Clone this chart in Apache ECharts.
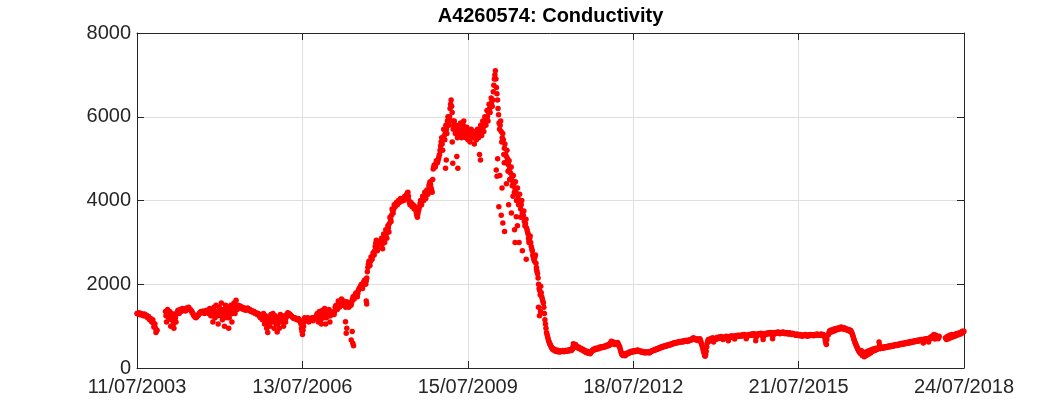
<!DOCTYPE html>
<html>
<head>
<meta charset="utf-8">
<script src="https://cdn.jsdelivr.net/npm/echarts@6/dist/echarts.min.js"></script>
<style>
html,body{margin:0;padding:0;background:#fff;}
#chart{width:1063px;height:413px;}
</style>
</head>
<body>
<div id="chart"></div>
<script>
// Weekly readings (every 7 days) starting 11/07/2003, one array per July-to-July year
const startDate = '2003-07-11';
const stepDays = 7;
const y2003 = [1300,1290,1320,1270,1300,1280,1250,1290,1240,1260, 1200,1230,1150,1180,1100,1150,980,1050,850,900, null,null,null,null,null,null,null,1350,1100,1400, 1200,1350,1000,1300,1150,950,1250,1100,1320,1380, 1300,1400,1350,1420,1380,1400,1360,1430,1400,1450, 1410,1380];
const y2004 = [1350,1300,1250,1220,1200,1240,1260,1300,1330,1350, 1320,1360,1300,1340,1380,1330,1300,1420,1250,1380, 1100,1450,1200,1500,1300,1050,1450,1350,1550,1150, 1400,1000,1500,1250,1450,950,1350,1500,1100,1400, 1550,1300,1620,1400,1500,1450,1480,1420,1450,1400, 1430,1380];
const y2005 = [1400,1430,1380,1400,1350,1370,1330,1350,1300,1320, 1280,1300,1250,1200,1280,1150,1300,1050,1250,950, 850,1200,1000,1280,1100,1300,950,1250,1050,860, 1200,950,1280,1100,1250,1000,1200,1100,1280,1320, 1300,1280,1250,1230,1200,1180,1200,1170,1150,1180, 1150,1100];
const y2006 = [950,800,1000,1200,1180,1150,1200,1100,1180,1150, 1200,1130,1200,1180,1230,1300,1100,1350,1250,1050, 1380,1200,1420,1050,1350,1250,1400,1100,1350,1300, 1320,1280,1450,1500,1400,1600,1450,1550,1650,1500, 1600,1550,1450,1580,1500,1450,1550,1500,1600,1700, 1650,1750];
const y2007 = [1800,1700,1850,1900,1950,2000,1900,2050,2100,2000, 2150,2400,2550,2450,2650,2600,2750,2700,2900,3050, 2800,2950,null,3000,3100,2850,3200,3000,3300,3100, 3400,3250,3600,3500,3800,3700,3900,3850,3950,3900, 4000,3950,4050,3980,4050,4000,4100,4050,4150,4200, 4000,3900];
const y2008 = [3950,3850,3900,3800,3850,3700,3600,3750,3850,4000, 3900,4100,4000,4200,4050,4250,4150,4350,4450,4300, 4200,4750,4850,4800,4950,4900,5000,5100,5300,5500, 5200,5700,5450,5800,5600,6000,5800,6200,6400,6100, 5700,5900,5600,5800,5500,5750,5600,5850,5500,5700, 5900,5650];
const y2009 = [5500,5750,5450,5650,5400,5700,5500,5600,5350,5650, 5450,5700,5500,5600,5800,5550,5900,5650,6000,5800, 6150,5900,6300,6100,6450,6250,6600,6900,7100,6700, 6400,6050,5700,5900,5400,5600,5100,5350,4900,5200, 4700,4950,4500,4800,4350,4600,4200,4450,4000,4300, 3900,4150];
const y2010 = [3800,4000,3600,3750,3400,3550,3300,3200,3050,3150, 2900,2800,2650,2550,2700,2400,2250,2000,1850,1950, 1700,1600,1450,1150,950,800,700,620,560,500, 480,430,450,400,430,390,420,380,410,400, 420,390,410,420,400,430,410,440,420,450, 580,500];
const y2011 = [560,520,480,500,460,470,430,450,400,420, 370,400,350,380,340,390,420,450,430,470, 450,480,460,500,480,510,490,520,500,540, 520,560,540,600,640,580,620,560,600,570, 610,550,500,400,330,300,340,290,330,360, 340,380];
const y2012 = [370,400,380,410,390,420,400,430,410,400, 380,400,370,390,360,380,370,390,360,380, 400,420,410,440,430,460,450,480,470,500, 490,520,510,530,520,550,540,560,550,580, 570,600,590,610,600,620,610,630,620,640, 620,650];
const y2013 = [640,660,630,660,650,680,670,700,720,680, 700,660,690,650,700,620,550,450,350,280, 400,600,680,640,700,660,720,620,700,680, 730,700,740,710,750,720,680,740,720,760, 730,650,750,730,770,740,760,690,770,750, 780,760];
const y2014 = [780,760,790,770,800,780,700,790,770,800, 780,810,790,820,800,650,810,790,820,800, 830,810,680,820,800,830,810,840,820,850, 830,700,840,820,850,830,860,840,820,850, 830,860,840,820,850,830,810,840,820,800, 830,810];
const y2015 = [800,780,810,790,770,800,780,760,790,770, 800,780,760,790,770,800,780,790,770,800, 780,810,790,800,780,810,790,800,770,650, 560,780,800,880,900,860,920,880,940,900, 950,920,960,930,980,950,930,960,920,940, 900,920];
const y2016 = [880,900,850,780,700,620,560,500,450,400, 350,420,300,380,270,350,300,400,330,420, 360,440,400,460,420,470,440,480,620,460, 490,470,500,480,510,490,520,500,530,510, 540,520,550,530,560,540,570,550,580,560, 590,570];
const y2017 = [600,580,610,590,620,600,630,610,640,620, 650,630,660,640,670,650,680,660,600,690, 670,700,680,620,720,700,760,730,800,690, 780,720,700,760,null,null,null,null,null,720, 680,760,700,780,720,800,740,790,760,820, 780,830];
const y2018 = [800,850,820,880,860];

// Mid-week readings (3.5 days after each weekly reading)
const m2003 = [1300,1300,1290,1290,1280,1280,1270,1270,1250,1230, 1210,1190,1170,1130,1120,1080,1000,950,900,null, null,null,null,null,null,null,null,1250,1250,1300, 1250,1200,1150,1200,1050,1100,1200,1300,1350,1350, 1360,1370,1390,1380,1400,1390,1400,1410,1420,1410, 1400,1360];
const m2004 = [1320,1280,1240,1210,1220,1250,1280,1310,1340,1340, 1340,1330,1320,1350,1350,1320,1330,1350,1300,1250, 1300,1350,1300,1350,1250,1300,1350,1250,1300,1350, 1200,1300,1350,1200,1300,1200,1400,1300,1300,1450, 1400,1450,1500,1450,1470,1460,1450,1440,1430,1420, 1410,1400];
const m2005 = [1410,1400,1390,1380,1370,1350,1340,1330,1310,1300, 1290,1270,1230,1240,1200,1230,1150,1180,1100,1100, 1050,1100,1150,1200,1200,1150,1100,1150,1150,1050, 1100,1150,1200,1150,1150,1100,1150,1200,1250,1300, 1290,1270,1240,1220,1190,1190,1180,1160,1160,1160, 1120,1050];
const m2006 = [880,900,1100,1150,1170,1170,1150,1150,1160,1170, 1160,1170,1190,1200,1260,1200,1250,1300,1150,1250, 1300,1300,1250,1200,1300,1320,1250,1250,1300,1310, 1300,1350,1480,1450,1500,1520,1500,1600,1580,1550, 1570,1500,1520,1540,1480,1500,1520,1550,1650,1680, 1700,1780];
const m2007 = [1750,1780,1880,1920,1970,1950,1980,2080,2050,2080, 2300,2480,2500,2550,2620,2680,2720,2800,2980,2900, 2850,null,null,3050,2950,3050,3100,3150,3200,3300, 3350,3450,3550,3650,3750,3800,3880,3900,3920,3950, 3970,4000,4020,4010,4030,4050,4070,4100,4180,4100, 3950,3920];
const m2008 = [3900,3870,3850,3830,3780,3650,3680,3800,3920,3950, 4000,4050,4100,4120,4150,4200,4250,4400,4380,4250, 4500,4800,4820,4880,4920,4950,5050,5200,5400,5350, 5450,5550,5650,5700,5900,5900,6000,6300,6250,5900, 5800,5750,5700,5650,5650,5700,5700,5650,5600,5800, 5750,5600];
const m2009 = [5600,5600,5550,5550,5550,5600,5550,5500,5500,5550, 5600,5600,5550,5700,5650,5750,5750,5850,5900,5950, 6000,6100,6200,6300,6350,6400,6750,7000,6900,6550, 6200,5850,5800,5650,5500,5450,5250,5100,5050,5000, 4850,4750,4650,4550,4450,4400,4300,4200,4150,4050, 4000,3950];
const m2010 = [3900,3700,3650,3500,3450,3350,3250,3100,3100,3000, 2850,2700,2600,2650,2500,2300,2150,1900,1750,1800, 1650,1550,1300,1050,850,750,650,580,530,480, 450,440,420,410,410,400,400,390,400,410, 400,400,420,410,410,420,420,430,430,500, 520,520];
const m2011 = [540,500,490,480,460,450,440,420,410,400, 380,370,360,360,370,400,430,440,450,460, 460,470,480,490,495,500,505,510,520,530, 540,550,570,600,610,600,590,590,580,580, 570,520,450,360,310,320,310,310,340,350, 360,370];
const m2012 = [380,390,395,400,400,410,415,420,410,400, 390,385,380,375,370,370,375,375,375,390, 410,415,425,435,445,455,465,475,485,495, 505,515,520,525,535,545,550,555,565,575, 585,595,600,605,610,615,620,625,630,630, 635,645];
const m2013 = [650,645,645,655,665,675,685,710,700,690, 680,675,670,670,660,580,500,400,300,320, 500,640,660,670,680,690,670,690,690,700, 715,720,725,730,735,700,710,730,740,745, 700,720,740,750,755,750,740,760,760,765, 770,770];
const m2014 = [770,775,780,785,790,750,760,780,785,790, 795,800,805,810,760,740,800,805,810,815, 820,760,760,810,815,820,825,830,835,840, 780,780,830,835,840,845,850,845,835,840, 845,850,830,835,840,820,825,830,810,815, 820,805];
const m2015 = [790,795,800,780,785,790,770,775,780,785, 790,770,775,780,785,790,785,780,785,790, 795,800,795,790,795,800,795,785,720,600, 680,790,840,890,880,890,900,910,920,930, 935,940,945,955,965,940,945,940,930,920, 910,900];
const m2016 = [890,870,820,740,660,590,530,470,420,380, 380,360,340,320,320,320,350,360,370,380, 400,410,430,440,440,450,460,470,550,470, 480,485,490,495,500,505,510,515,520,525, 530,535,540,545,550,555,560,565,570,575, 580,585];
const m2017 = [590,595,600,605,610,615,620,625,630,635, 640,645,650,655,660,665,670,640,650,680, 685,690,650,700,710,720,740,760,740,730, 750,710,730,null,null,null,null,null,null,700, 720,730,740,750,760,770,770,780,790,800, 810,820];
const m2018 = [830,840,850,870,880];

// Isolated readings away from the main trace: [decimal year, value]
const outliers2007 = [[2007.314,1105],[2007.338,950],[2007.327,830],[2007.436,870],[2007.418,670],[2007.447,590],[2007.460,530],[2007.691,1600],[2007.700,1530]];
const outliers2009 = [[2009.146,4970],[2009.255,5400],[2009.338,5050],[2009.265,4890],[2009.357,4770],[2009.133,4770],[2009.751,5100],[2009.769,4970]];
const outliers2010 = [[2010.055,4730],[2010.069,4580],[2010.102,3850],[2010.146,3650],[2010.175,3460],[2010.206,3260],[2010.388,3300],[2010.397,3000],[2010.419,3610],[2010.787,2350],[2010.823,1450],[2010.841,1250],[2010.860,1350],
  [2010.080,5000],[2010.120,4600],[2010.160,4300],[2010.200,4900],[2010.240,4400],[2010.280,3900],[2010.300,4500],[2010.330,3700],[2010.360,4100],[2010.440,3400],[2010.470,3000],[2010.500,3600],[2010.530,2800],[2010.600,2600],[2010.650,3000]];

// Axis settings
const yTicks = [0, 2000, 4000, 6000, 8000];
const xTickLabels = ['11/07/2003','13/07/2006','15/07/2009','18/07/2012','21/07/2015','24/07/2018'];
const titleText = 'A4260574: Conductivity';

const DAY = 86400000;
const t0 = Date.parse(startDate + 'T00:00:00Z');
const startYearFrac = 2003 + (191 / 365);
const weekly = [].concat(y2003,y2004,y2005,y2006,y2007,y2008,y2009,y2010,y2011,y2012,y2013,y2014,y2015,y2016,y2017,y2018);
const midweek = [].concat(m2003,m2004,m2005,m2006,m2007,m2008,m2009,m2010,m2011,m2012,m2013,m2014,m2015,m2016,m2017,m2018);
const mainData = [];
weekly.forEach((v, i) => { if (v !== null) mainData.push([i * stepDays, v]); });
midweek.forEach((v, i) => { if (v !== null) mainData.push([i * stepDays + stepDays / 2, v]); });
const outData = [].concat(outliers2007, outliers2009, outliers2010).map(p => [(p[0] - startYearFrac) * 365.25, p[1]]);

const xMax = (Date.parse('2018-07-24T00:00:00Z') - t0) / DAY;
const xInterval = xMax / (xTickLabels.length - 1);

function fmtDate(v) {
  const d = new Date(t0 + Math.floor(v + 1e-6) * DAY);
  const dd = String(d.getUTCDate()).padStart(2, '0');
  const mm = String(d.getUTCMonth() + 1).padStart(2, '0');
  return dd + '/' + mm + '/' + d.getUTCFullYear();
}

const FONT = '"Liberation Sans", Arial, Helvetica, sans-serif';
const AX = '#262626';
const GRIDC = '#dfdfdf';

const chart = echarts.init(document.getElementById('chart'), null, {renderer: 'canvas'});
chart.setOption({
  animation: false,
  backgroundColor: '#ffffff',
  grid: {left: 137, right: 99, top: 33, bottom: 45, containLabel: false},
  graphic: [{
    type: 'text', x: 550.5, y: 16,
    style: {text: titleText, font: 'bold 20px ' + FONT, fill: '#000', align: 'center', verticalAlign: 'middle'}
  }],
  xAxis: [{
    type: 'value', position: 'bottom', min: 0, max: xMax, interval: xInterval,
    axisLine: {show: true, onZero: false, lineStyle: {color: AX, width: 1}},
    axisTick: {show: true, inside: true, length: 7, lineStyle: {color: AX, width: 1}},
    axisLabel: {show: true, color: AX, fontSize: 20, fontFamily: FONT, margin: 9,
      formatter: v => fmtDate(v), showMinLabel: true, showMaxLabel: true, hideOverlap: false},
    splitLine: {show: true, lineStyle: {color: GRIDC, width: 1}}
  }, {
    type: 'value', position: 'top', min: 0, max: xMax, interval: xInterval,
    axisLine: {show: true, onZero: false, lineStyle: {color: AX, width: 1}},
    axisTick: {show: true, inside: true, length: 7, lineStyle: {color: AX, width: 1}},
    axisLabel: {show: false}, splitLine: {show: false}
  }],
  yAxis: [{
    type: 'value', position: 'left', min: yTicks[0], max: yTicks[yTicks.length - 1], interval: yTicks[1] - yTicks[0],
    axisLine: {show: true, onZero: false, lineStyle: {color: AX, width: 1}},
    axisTick: {show: true, inside: true, length: 7, lineStyle: {color: AX, width: 1}},
    axisLabel: {show: true, color: AX, fontSize: 20, fontFamily: FONT, margin: 6, formatter: v => String(v)},
    splitLine: {show: true, lineStyle: {color: GRIDC, width: 1}}
  }, {
    type: 'value', position: 'right', min: yTicks[0], max: yTicks[yTicks.length - 1], interval: yTicks[1] - yTicks[0],
    axisLine: {show: true, onZero: false, lineStyle: {color: AX, width: 1}},
    axisTick: {show: true, inside: true, length: 7, lineStyle: {color: AX, width: 1}},
    axisLabel: {show: false}, splitLine: {show: false}
  }],
  series: [{
    name: 'Conductivity', type: 'scatter', xAxisIndex: 0, yAxisIndex: 0,
    data: mainData, symbol: 'circle', symbolSize: 5.5,
    itemStyle: {color: '#ff0000', opacity: 1}, silent: true
  }, {
    name: 'Conductivity outliers', type: 'scatter', xAxisIndex: 0, yAxisIndex: 0,
    data: outData, symbol: 'circle', symbolSize: 5.5,
    itemStyle: {color: '#ff0000', opacity: 1}, silent: true
  }]
});
</script>
</body>
</html>
